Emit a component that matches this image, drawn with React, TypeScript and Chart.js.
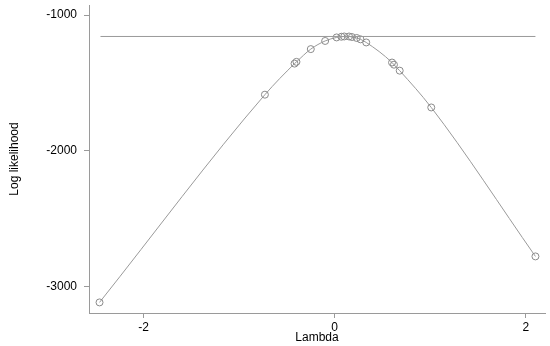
import React, { useEffect, useRef } from "react";
import { Chart, registerables } from "chart.js";

Chart.register(...registerables);

const lambdas = [-2.46, -0.73, -0.42, -0.4, -0.25, -0.1, 0.02, 0.07, 0.1, 0.15, 0.18, 0.23, 0.27, 0.33, 0.6, 0.62, 0.68, 1.01, 2.1];
const logLik = [-3118, -1587, -1358, -1345, -1251, -1191, -1165, -1160, -1158, -1158, -1162, -1169, -1179, -1202, -1350, -1366, -1410, -1681, -2779];
const maxLine = [-1158, -1158];
const maxLineX = [-2.45, 2.1];
const xTicks = [-2, 0, 2];
const yTicks = [-1000, -2000, -3000];

const FONT = "'Liberation Sans', Arial, Helvetica, sans-serif";
const GRAY = "#9a9a9a";

export default function App() {
  const ref = useRef<HTMLCanvasElement | null>(null);
  useEffect(() => {
    if (!ref.current) return;
    const chart = new Chart(ref.current, {
      type: "line",
      data: {
        datasets: [
          {
            data: maxLineX.map((x, i) => ({ x, y: maxLine[i] })),
            borderColor: GRAY,
            borderWidth: 1,
            pointRadius: 0,
            fill: false,
          },
          {
            data: lambdas.map((x, i) => ({ x, y: logLik[i] })),
            borderColor: GRAY,
            borderWidth: 1,
            pointRadius: 3.5,
            pointBorderWidth: 1,
            pointBorderColor: "#8a8a8a",
            pointBackgroundColor: "rgba(0,0,0,0)",
            cubicInterpolationMode: "monotone",
            fill: false,
          },
        ],
      },
      options: {
        animation: false,
        responsive: false,
        devicePixelRatio: 1,
        layout: { padding: { top: 5, right: 5, left: 0, bottom: 0 } },
        plugins: { legend: { display: false }, tooltip: { enabled: false } },
        scales: {
          x: {
            type: "linear",
            min: -2.57,
            max: 2.2,
            afterBuildTicks: (s: any) => {
              s.ticks = xTicks.map((v) => ({ value: v }));
            },
            afterFit: (s: any) => {
              s.height = 33;
              s.paddingLeft = 0;
              s.paddingRight = 0;
            },
            grid: { drawOnChartArea: false, drawTicks: true, tickLength: 5, color: GRAY },
            border: { display: true, color: GRAY, width: 1 },
            ticks: { color: "#000", padding: 2, font: { family: FONT, size: 12 }, maxRotation: 0, callback: (v: any) => String(v) },
            title: { display: true, text: "Lambda", color: "#000", font: { family: FONT, size: 12 }, padding: { top: 0, bottom: 1 } },
          },
          y: {
            type: "linear",
            min: -3196,
            max: -926,
            afterBuildTicks: (s: any) => {
              s.ticks = yTicks.map((v) => ({ value: v }));
            },
            afterFit: (s: any) => {
              s.width = 89;
              s.paddingTop = 0;
              s.paddingBottom = 0;
            },
            grid: { drawOnChartArea: false, drawTicks: true, tickLength: 5, color: GRAY },
            border: { display: true, color: GRAY, width: 1 },
            ticks: { color: "#000", padding: 7, font: { family: FONT, size: 12 }, callback: (v: any) => String(v) },
            title: { display: true, text: "Log likelihood", color: "#000", font: { family: FONT, size: 12 }, padding: { top: 7, bottom: 0 } },
          },
        },
      },
    } as any);
    return () => chart.destroy();
  }, []);
  return (
    <div style={{ position: "fixed", left: 0, top: 0, width: 550, height: 346, background: "#fff" }}>
      <canvas ref={ref} width={550} height={346} style={{ width: 550, height: 346, display: "block" }} />
    </div>
  );
}
